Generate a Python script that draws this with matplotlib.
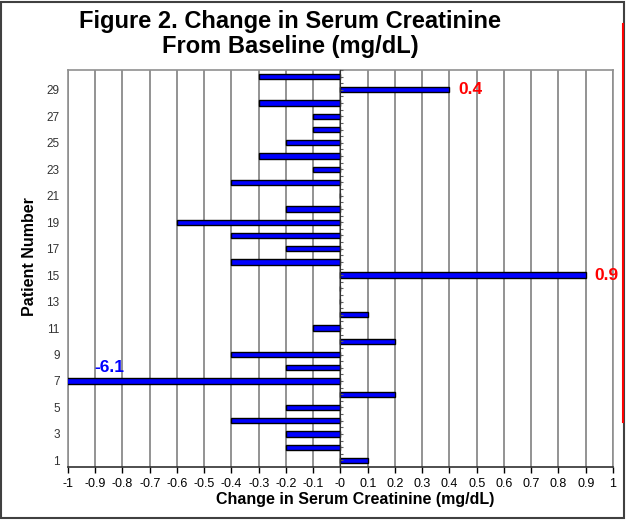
import matplotlib.pyplot as plt
import numpy as np
from matplotlib.lines import Line2D
from matplotlib.patches import Rectangle

plt.rcParams['font.family'] = ['Liberation Sans', 'DejaVu Sans']

# change in serum creatinine for patients 1..30 (patient 7 is -6.1, off scale)
patients = np.arange(1, 31)
change = [0.1, -0.2, -0.2, -0.4, -0.2, 0.2, -6.1, -0.2, -0.4, 0.2,
          -0.1, 0.1, 0.0, 0.0, 0.9, -0.4, -0.2, -0.4, -0.6, -0.2,
          0.0, -0.4, -0.1, -0.3, -0.2, -0.1, -0.1, -0.3, 0.4, -0.3]
x_ticks = np.round(np.arange(-1, 1.01, 0.1), 1)
y_ticks = np.arange(1, 30, 2)

fig = plt.figure(figsize=(6.26, 5.2), dpi=100)
ax = fig.add_axes([0.1086, 0.1019, 0.8706, 0.7635])

ax.barh(patients, change, height=0.4, color='#0000FF', edgecolor='black',
        linewidth=1, zorder=3)

ax.set_xlim(-1, 1)
ax.set_ylim(0.5, 30.5)
ax.set_xticks(x_ticks)
ax.set_xticklabels([f'{v:g}' for v in x_ticks])
ax.set_yticks(y_ticks)
ax.tick_params(axis='x', length=4, width=1, color='black', labelsize=9, pad=4)
ax.tick_params(axis='y', length=0, labelsize=8.5, labelcolor='#333333', pad=6)
ax.grid(axis='x', color='#808080', linewidth=1.2, zorder=0)
for s in ['left', 'top', 'right']:
    ax.spines[s].set_color('#909090')
    ax.spines[s].set_linewidth(1.2)
ax.spines['bottom'].set_color('#303030')
ax.spines['bottom'].set_linewidth(1.2)

# category axis crossing at zero with small ticks
ax2 = ax.twinx()
ax2.set_ylim(0.5, 30.5)
ax2.spines['right'].set_position(('axes', 0.5))
ax2.spines['right'].set_color('#303030')
for s in ['left', 'top', 'bottom']:
    ax2.spines[s].set_visible(False)
ax2.set_yticks(np.arange(0.5, 30.6, 0.5))
ax2.set_yticklabels([])
ax2.tick_params(axis='y', length=2, width=0.8, color='#606060', direction='out')

# value labels
ax.annotate('0.4', xy=(change[28], patients[28]), xytext=(6.5, 0),
            textcoords='offset points', color='red', fontsize=12.5,
            fontweight='bold', va='center', ha='left')
ax.annotate('0.9', xy=(change[14], patients[14]), xytext=(6.5, 0),
            textcoords='offset points', color='red', fontsize=12.5,
            fontweight='bold', va='center', ha='left')
ax.annotate('-6.1', xy=(-1, patients[6]), xytext=(19, 10),
            textcoords='offset points', color='#0000FF', fontsize=12.5,
            fontweight='bold', va='center', ha='left')

ax.set_xlabel('Change in Serum Creatinine (mg/dL)', fontsize=11.5,
              fontweight='bold')
ax.xaxis.set_label_coords(0.527, -0.062)
ax.set_ylabel('Patient Number', fontsize=11.5, fontweight='bold')
ax.yaxis.set_label_coords(-0.057, 0.53)

fig.text(0.463, 0.98, 'Figure 2. Change in Serum Creatinine\nFrom Baseline (mg/dL)',
         ha='center', va='top', fontsize=17, fontweight='bold', linespacing=1.1)

# outer frame and red marker line
fig.add_artist(Rectangle((0.002, 0.003), 0.995, 0.994, transform=fig.transFigure,
                         fill=False, edgecolor='#404040', linewidth=1.5))
fig.add_artist(Line2D([0.995, 0.995], [0.954, 0.188], transform=fig.transFigure,
                      color='red', linewidth=1.5))

fig.savefig('out.png', dpi=100)
